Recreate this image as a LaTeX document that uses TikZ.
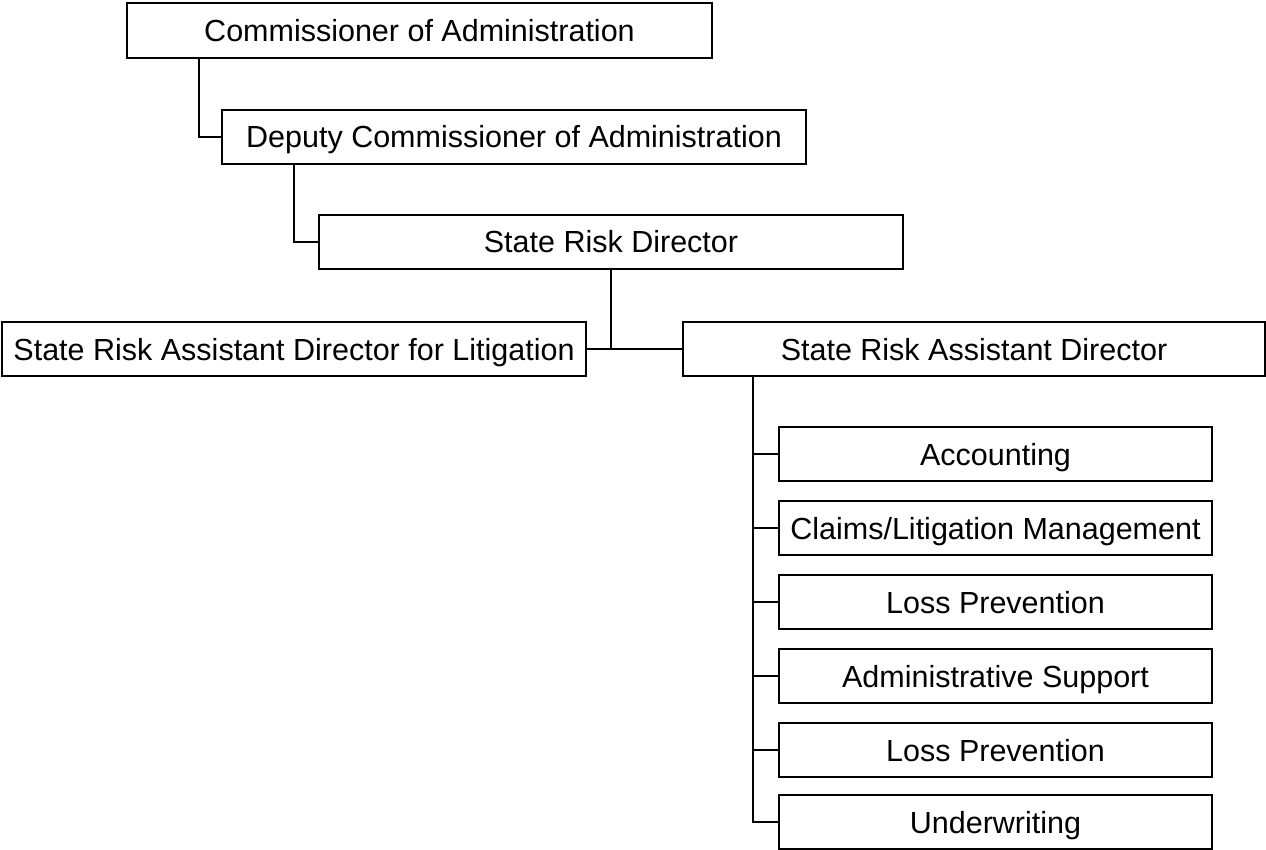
\documentclass[tikz,border=0pt]{standalone}
\usepackage{fontspec}
\setmainfont{Liberation Sans}
\begin{document}
\begin{tikzpicture}[x=1pt,y=-1pt,
  box/.style={draw=black,line width=1.9pt,fill=white,inner sep=0pt,minimum height=54pt,text height=23pt,text depth=1pt,font=\fontsize{30.5}{36}\selectfont},
  link/.style={draw=black,line width=1.9pt}]
\useasboundingbox (0,0) rectangle (1266,850);
\node[box,minimum width=585pt,minimum height=55pt] (b1) at (419.5,30.5) {Commissioner of Administration};
\node[box,minimum width=584pt] (b2) at (514,137) {Deputy Commissioner of Administration};
\node[box,minimum width=584pt] (b3) at (611,242) {State Risk Director};
\node[box,minimum width=584pt] (l) at (294,349) {State Risk Assistant Director for Litigation};
\node[box,minimum width=582pt] (r) at (974,349) {State Risk Assistant Director};
\node[box,minimum width=433pt] (s1) at (995.5,454) {Accounting};
\node[box,minimum width=433pt] (s2) at (995.5,528) {Claims/Litigation Management};
\node[box,minimum width=433pt] (s3) at (995.5,602) {Loss Prevention};
\node[box,minimum width=433pt] (s4) at (995.5,676) {Administrative Support};
\node[box,minimum width=433pt] (s5) at (995.5,750) {Loss Prevention};
\node[box,minimum width=433pt] (s6) at (995.5,822) {Underwriting};
\draw[link] ([xshift=73pt]b1.south west) |- (b2.west);
\draw[link] ([xshift=73pt]b2.south west) |- (b3.west);
\draw[link] (l.east) -- (r.west);
\coordinate (j) at (l.east -| b3.south);
\draw[link] (b3.south) -- (j);
\coordinate (bus) at ([xshift=71pt]r.south west);
\draw[link] (bus) |- (s6.west);
\foreach \i in {1,...,5} \draw[link] (s\i.west) -- (s\i.west -| bus);
\end{tikzpicture}
\end{document}
